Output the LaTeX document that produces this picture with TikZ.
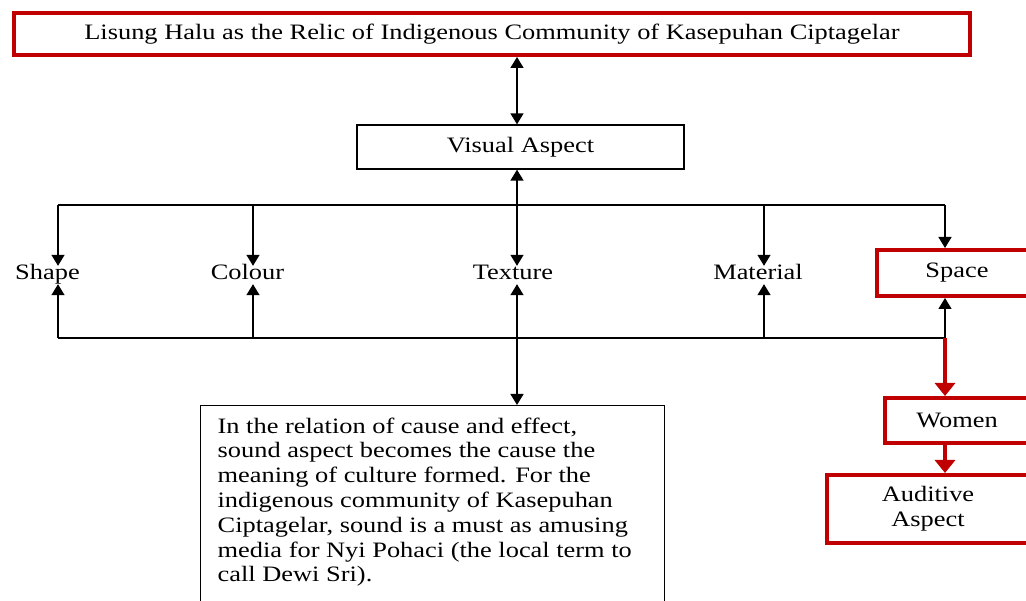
\documentclass[tikz,border=0pt]{standalone}
\usepackage{fontspec}
\setmainfont[FakeStretch=1.2]{Liberation Serif}
\usetikzlibrary{arrows.meta}
\definecolor{boxred}{RGB}{192,0,0}
\begin{document}
\begin{tikzpicture}[x=1pt,y=-1pt]
          \tikzstyle{rbox}=[draw=boxred,line width=4pt,inner sep=0pt,align=center,font=\fontsize{22}{25}\selectfont]
          \tikzstyle{bbox}=[draw=black,line width=1.3pt,inner sep=0pt,align=center,font=\fontsize{22}{25}\selectfont]
          \tikzstyle{word}=[inner sep=0pt,text height=14pt,text depth=4pt,font=\fontsize{22}{25}\selectfont]
          \tikzstyle{conn}=[draw,line width=1.4pt]
          \tikzstyle{sarrow}=[conn,-{Triangle[length=11pt,width=13pt]}]
          \tikzstyle{darrow}=[conn,{Triangle[length=11pt,width=13pt]}-{Triangle[length=11pt,width=13pt]}]
          \tikzstyle{rarrow}=[draw=boxred,line width=4pt,-{Triangle[length=13pt,width=20pt]}]
          \useasboundingbox (0,0) rectangle (1026,601);
          \node[rbox,minimum width=956,minimum height=42] (title) at (492,34) {Lisung Halu as the Relic of Indigenous Community of Kasepuhan Ciptagelar};
          \node[bbox,minimum width=327,minimum height=44] (visual) at (520.5,147) {\raisebox{-2pt}{Visual Aspect}};
          \node[word] (shape) at (47.5,275) {Shape};
          \node[word] (colour) at (247.5,275) {Colour};
          \node[word] (texture) at (513,275) {Texture};
          \node[word] (material) at (758,275) {Material};
          \node[rbox,minimum width=160,minimum height=46] (space) at (957,273) {\raisebox{-2pt}{Space}};
          \node[rbox,minimum width=144,minimum height=45] (women) at (957,420.5) {\raisebox{1pt}{Women}};
          \node[rbox,minimum width=202,minimum height=68] (auditive) at (928,509) {Auditive\\Aspect};
          \node[bbox,anchor=north west,inner xsep=17pt,inner ysep=12pt] (note) at (200,405)
            {\parbox[t][220pt][t]{430pt}{\fontsize{22}{24.8}\selectfont\raggedright
            In the relation of cause and effect,\\
            sound aspect becomes the cause the\\
            meaning of culture formed. For the\\
            indigenous community of Kasepuhan\\
            Ciptagelar, sound is a must as amusing\\
            media for Nyi Pohaci (the local term to\\
            call Dewi Sri).}};
          \foreach \n/\x in {shape/58,colour/253,texture/517,material/764,space/945}{
            \coordinate (\n-t) at (\x,205);
            \coordinate (\n-b) at (\x,338);
            }
          \draw[conn] (shape-t) -- (space-t);
          \draw[conn] (shape-b) -- (space-b);
          \foreach \n in {shape,colour,material}{
            \draw[sarrow] (\n-t) -- (\n-t |- \n.north);
            \draw[sarrow] (\n-b) -- (\n-b |- \n.south);
            }
          \draw[sarrow] (space-t) -- (space-t |- space.north);
          \draw[sarrow] (space-b) -- (space-b |- space.south);
          \draw[darrow] (texture-t |- title.south) -- (texture-t |- visual.north);
          \draw[darrow] (texture-t |- visual.south) -- (texture-t |- texture.north);
          \draw[darrow] (texture-b |- texture.south) -- (texture-b |- note.north);
          \draw[rarrow] (space-b) -- (space-b |- women.north);
          \draw[rarrow] (space-b |- women.south) -- (space-b |- auditive.north);
        \end{tikzpicture}
\end{document}
